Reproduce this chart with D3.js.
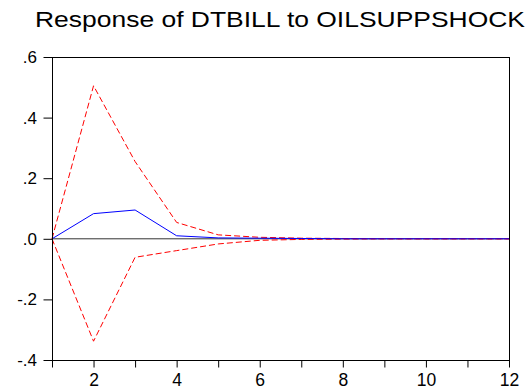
<!DOCTYPE html>
<html>
<head>
<meta charset="utf-8">
<script src="https://cdn.jsdelivr.net/npm/d3@7"></script>
<style>
  html, body { margin: 0; padding: 0; background: white; }
  svg { display: block; }
</style>
</head>
<body>
<script>
// Impulse response, periods 1..12
var periods = [1, 2, 3, 4, 5, 6, 7, 8, 9, 10, 11, 12];
var response = [0, 0.083, 0.095, 0.010, 0.003, 0.002, 0.001, 0, 0, 0, 0, 0];
var upperBand = [0, 0.505, 0.255, 0.054, 0.013, 0.005, 0.002, 0.001, 0, 0, 0, 0];
var lowerBand = [0, -0.338, -0.061, -0.039, -0.017, -0.005, -0.002, -0.001, 0, 0, 0, 0];
var yTicks = [-0.4, -0.2, 0, 0.2, 0.4, 0.6];
var yTickLabels = ["-.4", "-.2", ".0", ".2", ".4", ".6"];
var xTickLabels = [2, 4, 6, 8, 10, 12];

var width = 530, height = 392;
var margin = {top: 57, right: 21, bottom: 32, left: 52};

var svg = d3.select("body").append("svg")
    .attr("width", width)
    .attr("height", height);

var x = d3.scaleLinear()
    .domain([1, 12])
    .range([margin.left, width - margin.right]);

var y = d3.scaleLinear()
    .domain([-0.4, 0.6])
    .range([height - margin.bottom, margin.top]);

var font = "'Liberation Sans', Arial, sans-serif";

// title (the original glyphs are a bit wider than Arial)
svg.append("text")
    .attr("x", 35)
    .attr("y", 27)
    .attr("font-family", font)
    .attr("font-size", 22.5)
    .attr("fill", "black")
    .attr("textLength", 490)
    .attr("lengthAdjust", "spacingAndGlyphs")
    .text("Response of DTBILL to OILSUPPSHOCK");

// zero line
svg.append("line")
    .attr("x1", x(1)).attr("x2", x(12))
    .attr("y1", y(0)).attr("y2", y(0))
    .attr("stroke", "#333")
    .attr("stroke-width", 1);

var line = d3.line()
    .x(function (d, i) { return x(periods[i]); })
    .y(function (d) { return y(d); });

svg.append("path")
    .datum(upperBand)
    .attr("d", line)
    .attr("fill", "none")
    .attr("stroke", "#ff0000")
    .attr("stroke-width", 1)
    .attr("stroke-dasharray", "6,3");

svg.append("path")
    .datum(lowerBand)
    .attr("d", line)
    .attr("fill", "none")
    .attr("stroke", "#ff0000")
    .attr("stroke-width", 1)
    .attr("stroke-dasharray", "6,3");

svg.append("path")
    .datum(response)
    .attr("d", line)
    .attr("fill", "none")
    .attr("stroke", "#0000ff")
    .attr("stroke-width", 1);

// frame
svg.append("rect")
    .attr("x", x(1) + 0.5)
    .attr("y", y(0.6) + 0.5)
    .attr("width", x(12) - x(1))
    .attr("height", y(-0.4) - y(0.6))
    .attr("fill", "none")
    .attr("stroke", "black")
    .attr("stroke-width", 1);

// y axis
var yAxis = d3.axisLeft(y)
    .tickValues(yTicks)
    .tickSize(9)
    .tickFormat(function (d, i) { return yTickLabels[i]; });

var gy = svg.append("g")
    .attr("transform", "translate(" + (x(1) + 0.5) + ",0)")
    .call(yAxis);
gy.select(".domain").remove();
gy.selectAll("text")
    .attr("font-family", font)
    .attr("font-size", 17)
    .attr("fill", "black")
    .attr("x", -15.5);

// x axis
var xAxis = d3.axisBottom(x)
    .tickValues(periods)
    .tickSize(7)
    .tickFormat(function (d) { return xTickLabels.indexOf(d) >= 0 ? d : ""; });

var gx = svg.append("g")
    .attr("transform", "translate(0," + (y(-0.4) + 0.5) + ")")
    .call(xAxis);
gx.select(".domain").remove();
gx.selectAll("text")
    .attr("font-family", font)
    .attr("font-size", 17.5)
    .attr("fill", "black")
    .attr("y", 13);
</script>
</body>
</html>
